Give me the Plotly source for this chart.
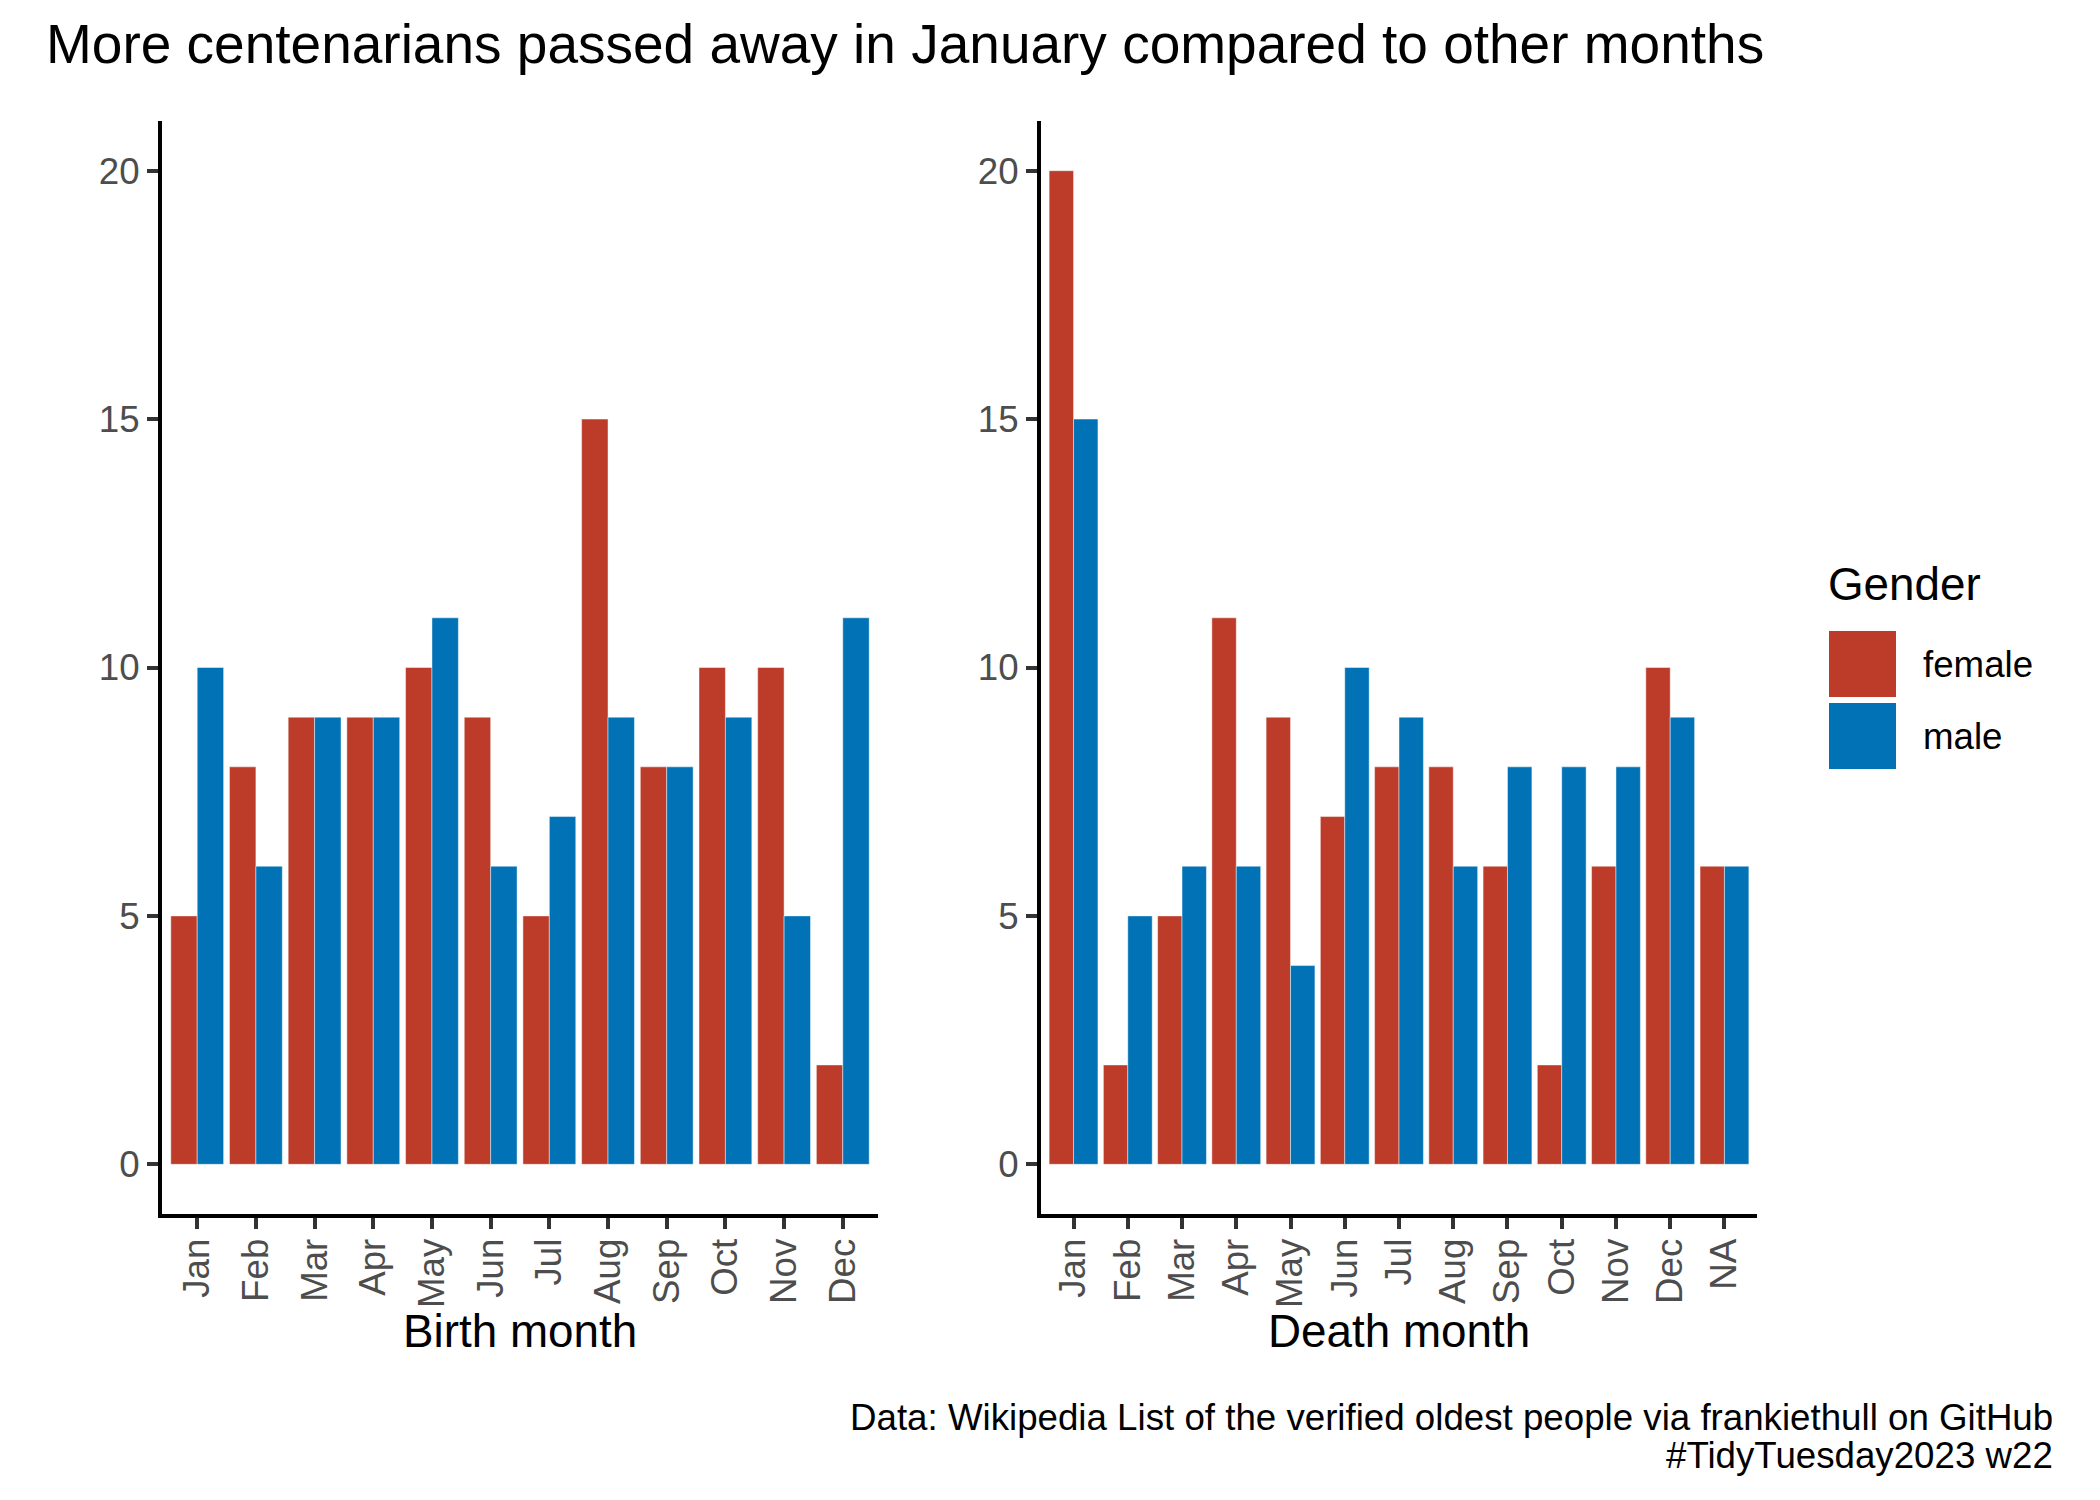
import plotly.graph_objects as go

# counts of centenarians per month
months = ["Jan", "Feb", "Mar", "Apr", "May", "Jun", "Jul", "Aug", "Sep", "Oct", "Nov", "Dec"]
death_months = months + ["NA"]

birth_female = [5, 8, 9, 9, 10, 9, 5, 15, 8, 10, 10, 2]
birth_male = [10, 6, 9, 9, 11, 6, 7, 9, 8, 9, 5, 11]
death_female = [20, 2, 5, 11, 9, 7, 8, 8, 6, 2, 6, 10, 6]
death_male = [15, 5, 6, 6, 4, 10, 9, 6, 8, 8, 8, 9, 6]

genders = ["female", "male"]
colors = {"female": "#BC3C29", "male": "#0072B5"}
y_ticks = [0, 5, 10, 15, 20]

W, H = 2100, 1500
OFF = 8  # the page body margin shifts the figure by 8px
FONT = "Liberation Sans, Arial, Helvetica, sans-serif"


def px_x(v):
    return (v - OFF) / W


def px_y(v):
    return 1 - (v - OFF) / H


fig = go.Figure()

edge = dict(color="rgba(255,255,255,0.45)", width=1)
fig.add_trace(go.Bar(x=months, y=birth_female, name="female", xaxis="x", yaxis="y",
                     marker=dict(color=colors["female"], line=edge),
                     offsetgroup="female", showlegend=False))
fig.add_trace(go.Bar(x=months, y=birth_male, name="male", xaxis="x", yaxis="y",
                     marker=dict(color=colors["male"], line=edge),
                     offsetgroup="male", showlegend=False))
fig.add_trace(go.Bar(x=death_months, y=death_female, name="female", xaxis="x2", yaxis="y2",
                     marker=dict(color=colors["female"], line=edge),
                     offsetgroup="female", showlegend=False))
fig.add_trace(go.Bar(x=death_months, y=death_male, name="male", xaxis="x2", yaxis="y2",
                     marker=dict(color=colors["male"], line=edge),
                     offsetgroup="male", showlegend=False))

tick_font = dict(family=FONT, size=36.7, color="#4D4D4D")
xcommon = dict(type="category", showline=True, linecolor="black", linewidth=4,
               ticks="outside", ticklen=11, tickwidth=4, tickcolor="#333333",
               tickangle=-90, tickfont=tick_font, showgrid=False, zeroline=False,
               automargin=False, fixedrange=True, ticklabelstandoff=-5)
ycommon = dict(range=[-1, 21], tickvals=y_ticks, showline=True, linecolor="black", linewidth=4,
               ticks="outside", ticklen=11, tickwidth=4, tickcolor="#333333",
               tickfont=tick_font, showgrid=False, zeroline=False,
               automargin=False, fixedrange=True, ticklabelstandoff=0)

y_dom = [px_y(1214), px_y(121)]
fig.update_layout(
    xaxis=dict(domain=[px_x(162), px_x(878)], range=[-0.6, 11.6], anchor="y", **xcommon),
    yaxis=dict(domain=y_dom, anchor="x", **ycommon),
    xaxis2=dict(domain=[px_x(1041), px_x(1757)], range=[-0.6, 12.6], anchor="y2", **xcommon),
    yaxis2=dict(domain=y_dom, anchor="x2", **ycommon),
    barmode="group", bargap=0.1, bargroupgap=0,
    width=W, height=H, margin=dict(l=0, r=0, t=0, b=0),
    plot_bgcolor="white", paper_bgcolor="white",
    font=dict(family=FONT, color="black"),
    title=dict(text="More centenarians passed away in January compared to other months",
               x=px_x(46), xanchor="left", xref="container",
               y=px_y(44), yanchor="middle", yref="container",
               font=dict(family=FONT, size=55, color="black")),
)

annotations = [
    dict(text="Birth month", x=px_x(520), y=px_y(1331)),
    dict(text="Death month", x=px_x(1399), y=px_y(1331)),
]
for a in annotations:
    a.update(xref="paper", yref="paper", xanchor="center", yanchor="middle", showarrow=False,
             font=dict(family=FONT, size=45.8, color="black"))

# caption lines
for txt, yy in [("Data: Wikipedia List of the verified oldest people via frankiethull on GitHub", 1417),
                ("#TidyTuesday2023 w22", 1455)]:
    annotations.append(dict(text=txt, x=px_x(2055), y=px_y(yy), xref="paper", yref="paper",
                            xanchor="right", yanchor="middle", showarrow=False,
                            font=dict(family=FONT, size=36.7, color="black")))

# legend drawn by hand so the keys match the big ggplot squares
annotations.append(dict(text="Gender", x=px_x(1826), y=px_y(584), xref="paper", yref="paper",
                        xanchor="left", yanchor="middle", showarrow=False,
                        font=dict(family=FONT, size=45.8, color="black")))
shapes = []
key_top = [631, 703]
for g, top in zip(genders, key_top):
    shapes.append(dict(type="rect", xref="paper", yref="paper",
                       x0=px_x(1829), x1=px_x(1896), y0=px_y(top + 66), y1=px_y(top),
                       fillcolor=colors[g], line=dict(width=0)))
    annotations.append(dict(text=g, x=px_x(1921), y=px_y(top + 33), xref="paper", yref="paper",
                            xanchor="left", yanchor="middle", showarrow=False,
                            font=dict(family=FONT, size=36.7, color="black")))

fig.update_layout(annotations=annotations, shapes=shapes)

fig.write_html("out.html")
